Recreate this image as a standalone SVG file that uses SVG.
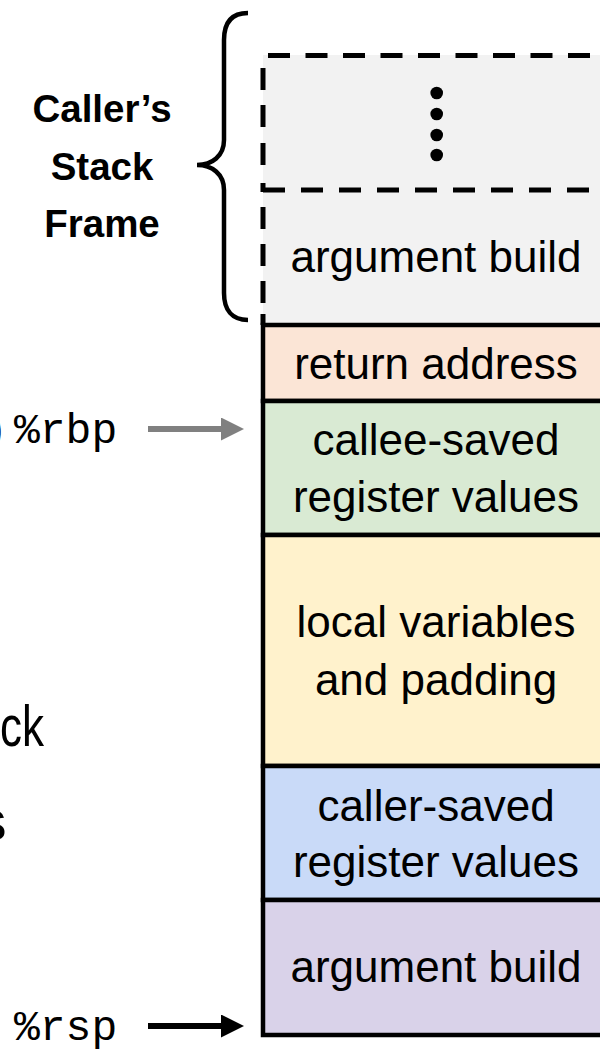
<svg xmlns="http://www.w3.org/2000/svg" width="600" height="1059" viewBox="0 0 600 1059">
<style>
.lbl{font-family:"Liberation Sans",Arial,sans-serif;font-size:44px;fill:#000;text-anchor:middle}
.bold{font-family:"Liberation Sans",Arial,sans-serif;font-size:38.5px;font-weight:bold;fill:#000;text-anchor:middle}
.mono{font-family:"Liberation Mono","DejaVu Sans Mono",monospace;font-size:43px;fill:#000}
.big{font-family:"Liberation Sans",Arial,sans-serif;fill:#000}
.box{stroke:#000;stroke-width:4.5}
.dash{fill:none;stroke:#000;stroke-width:5}
</style>
<defs>
<marker id="headGray" markerUnits="userSpaceOnUse" markerWidth="24" markerHeight="24" refX="1" refY="11.5" orient="auto"><path d="M0,0 L23,11.5 L0,23 Z" fill="#808080"/></marker>
<marker id="headBlack" markerUnits="userSpaceOnUse" markerWidth="24" markerHeight="24" refX="1" refY="11.5" orient="auto"><path d="M0,0 L23,11.5 L0,23 Z" fill="#000"/></marker>
</defs>

<g id="caller-frame">
<rect x="263" y="55" width="350" height="270" fill="#f2f2f2"/>
<path class="dash" d="M268,55.5 H612" stroke-dasharray="22 15.5"/>
<path class="dash" d="M263,190 H612" stroke-dasharray="22 16"/>
<path class="dash" d="M263,68V90 M263,105V127 M263,143V165 M263,183V192 M263,207V229 M263,244V266 M263,281V303 M263,314V325"/>
<g fill="#000"><circle cx="436.7" cy="93" r="6.3"/><circle cx="436.7" cy="114" r="6.3"/><circle cx="436.7" cy="135" r="6.3"/><circle cx="436.7" cy="155" r="6.3"/></g>
<text class="lbl" x="436" y="272">argument build</text>
</g>

<g id="brace">
<path d="M248,13 C232,13 224,22 224,40 V140 C224,156 212,165 197,165 C212,165 224,174 224,190 V293 C224,310 232,320 248,320" fill="none" stroke="#000" stroke-width="4.5"/>
<text class="bold" x="102" y="122">Caller’s</text>
<text class="bold" x="102" y="180">Stack</text>
<text class="bold" x="102" y="237">Frame</text>
</g>

<g id="return-address">
<rect class="box" x="263" y="325" width="350" height="76" fill="#fbe5d6"/>
<text class="lbl" x="436" y="379">return address</text>
</g>
<g id="callee-saved">
<rect class="box" x="263" y="401" width="350" height="134" fill="#d9ead3"/>
<text class="lbl" x="436" y="455">callee-saved</text>
<text class="lbl" x="436" y="512">register values</text>
</g>
<g id="locals">
<rect class="box" x="263" y="535" width="350" height="231" fill="#fff2cc"/>
<text class="lbl" x="436" y="637">local variables</text>
<text class="lbl" x="436" y="695">and padding</text>
</g>
<g id="caller-saved">
<rect class="box" x="263" y="766" width="350" height="134" fill="#c9daf8"/>
<text class="lbl" x="436" y="821">caller-saved</text>
<text class="lbl" x="436" y="877">register values</text>
</g>
<g id="argument-build">
<rect class="box" x="263" y="900" width="350" height="135" fill="#d9d2e9"/>
<text class="lbl" x="436" y="982">argument build</text>
</g>

<g id="rbp-label">
<text class="mono" x="-18" y="443">)</text>
<text class="mono" x="14" y="443">%rbp</text>
</g>
<g id="rsp-label">
<text class="mono" x="14" y="1040">%rsp</text>
</g>
<g id="side-text">
<text class="big" x="0" y="746" font-size="58" textLength="44" lengthAdjust="spacingAndGlyphs">ck</text>
<text class="big" x="-21" y="840" font-size="55">s</text>
</g>

<g id="connectors">
<line x1="148" y1="429" x2="222" y2="429" stroke="#808080" stroke-width="6" marker-end="url(#headGray)"/>
<line x1="148" y1="1026" x2="222" y2="1026" stroke="#000" stroke-width="6" marker-end="url(#headBlack)"/>
</g>
</svg>
